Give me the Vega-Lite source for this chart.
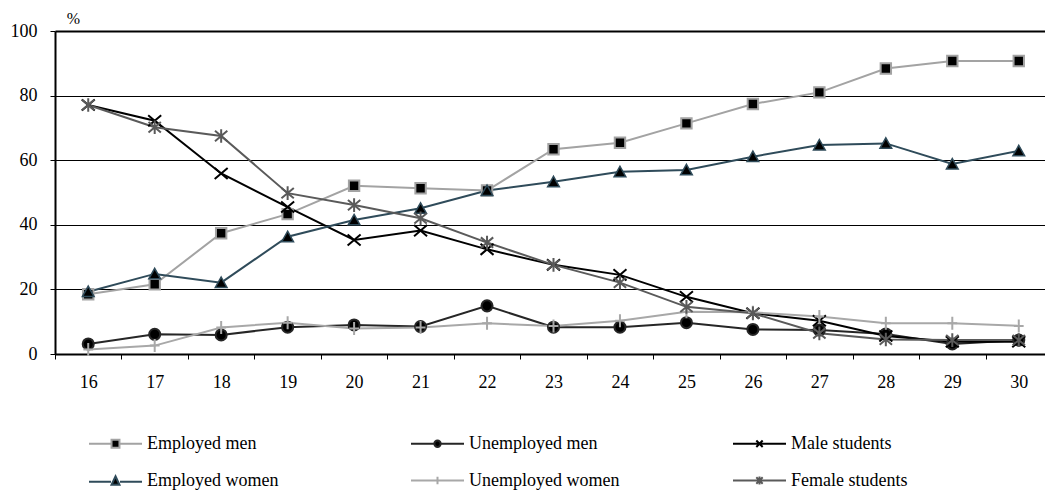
{
  "$schema": "https://vega.github.io/schema/vega-lite/v6.json",
  "width": 990,
  "height": 323,
  "autosize": {"type": "none"},
  "padding": {"left": 55, "top": 31, "right": 0, "bottom": 147},
  "background": "white",
  "config": {
    "view": {"stroke": null},
    "font": "Times New Roman, Liberation Serif, DejaVu Serif, serif",
    "axis": {"labelFont": "Times New Roman, Liberation Serif, DejaVu Serif, serif", "labelColor": "black", "titleFont": "Times New Roman, Liberation Serif, DejaVu Serif, serif", "titleColor": "black"},
    "legend": {"labelFont": "Times New Roman, Liberation Serif, DejaVu Serif, serif", "labelColor": "black"}
  },
  "data": {
    "values": [
      {"age": 16, "series": "Employed men", "value": 18.5},
      {"age": 17, "series": "Employed men", "value": 21.6},
      {"age": 18, "series": "Employed men", "value": 37.4},
      {"age": 19, "series": "Employed men", "value": 43.3},
      {"age": 20, "series": "Employed men", "value": 52.1},
      {"age": 21, "series": "Employed men", "value": 51.3},
      {"age": 22, "series": "Employed men", "value": 50.6},
      {"age": 23, "series": "Employed men", "value": 63.4},
      {"age": 24, "series": "Employed men", "value": 65.4},
      {"age": 25, "series": "Employed men", "value": 71.4},
      {"age": 26, "series": "Employed men", "value": 77.4},
      {"age": 27, "series": "Employed men", "value": 81.0},
      {"age": 28, "series": "Employed men", "value": 88.4},
      {"age": 29, "series": "Employed men", "value": 90.7},
      {"age": 30, "series": "Employed men", "value": 90.7},
      {"age": 16, "series": "Unemployed men", "value": 3.1},
      {"age": 17, "series": "Unemployed men", "value": 6.1},
      {"age": 18, "series": "Unemployed men", "value": 5.9},
      {"age": 19, "series": "Unemployed men", "value": 8.3},
      {"age": 20, "series": "Unemployed men", "value": 9.0},
      {"age": 21, "series": "Unemployed men", "value": 8.5},
      {"age": 22, "series": "Unemployed men", "value": 14.9},
      {"age": 23, "series": "Unemployed men", "value": 8.3},
      {"age": 24, "series": "Unemployed men", "value": 8.3},
      {"age": 25, "series": "Unemployed men", "value": 9.7},
      {"age": 26, "series": "Unemployed men", "value": 7.6},
      {"age": 27, "series": "Unemployed men", "value": 7.4},
      {"age": 28, "series": "Unemployed men", "value": 6.2},
      {"age": 29, "series": "Unemployed men", "value": 3.1},
      {"age": 30, "series": "Unemployed men", "value": 4.3},
      {"age": 16, "series": "Male students", "value": 77.1},
      {"age": 17, "series": "Male students", "value": 72.2},
      {"age": 18, "series": "Male students", "value": 55.9},
      {"age": 19, "series": "Male students", "value": 45.5},
      {"age": 20, "series": "Male students", "value": 35.3},
      {"age": 21, "series": "Male students", "value": 38.2},
      {"age": 22, "series": "Male students", "value": 32.4},
      {"age": 23, "series": "Male students", "value": 27.6},
      {"age": 24, "series": "Male students", "value": 24.5},
      {"age": 25, "series": "Male students", "value": 17.7},
      {"age": 26, "series": "Male students", "value": 12.6},
      {"age": 27, "series": "Male students", "value": 10.3},
      {"age": 28, "series": "Male students", "value": 5.6},
      {"age": 29, "series": "Male students", "value": 3.8},
      {"age": 30, "series": "Male students", "value": 3.8},
      {"age": 16, "series": "Employed women", "value": 19.3},
      {"age": 17, "series": "Employed women", "value": 24.8},
      {"age": 18, "series": "Employed women", "value": 22.1},
      {"age": 19, "series": "Employed women", "value": 36.3},
      {"age": 20, "series": "Employed women", "value": 41.5},
      {"age": 21, "series": "Employed women", "value": 45.1},
      {"age": 22, "series": "Employed women", "value": 50.6},
      {"age": 23, "series": "Employed women", "value": 53.3},
      {"age": 24, "series": "Employed women", "value": 56.4},
      {"age": 25, "series": "Employed women", "value": 57.0},
      {"age": 26, "series": "Employed women", "value": 61.1},
      {"age": 27, "series": "Employed women", "value": 64.7},
      {"age": 28, "series": "Employed women", "value": 65.2},
      {"age": 29, "series": "Employed women", "value": 58.8},
      {"age": 30, "series": "Employed women", "value": 62.9},
      {"age": 16, "series": "Unemployed women", "value": 1.4},
      {"age": 17, "series": "Unemployed women", "value": 2.6},
      {"age": 18, "series": "Unemployed women", "value": 8.2},
      {"age": 19, "series": "Unemployed women", "value": 9.7},
      {"age": 20, "series": "Unemployed women", "value": 7.9},
      {"age": 21, "series": "Unemployed women", "value": 8.2},
      {"age": 22, "series": "Unemployed women", "value": 9.5},
      {"age": 23, "series": "Unemployed women", "value": 8.7},
      {"age": 24, "series": "Unemployed women", "value": 10.3},
      {"age": 25, "series": "Unemployed women", "value": 13.1},
      {"age": 26, "series": "Unemployed women", "value": 12.9},
      {"age": 27, "series": "Unemployed women", "value": 11.6},
      {"age": 28, "series": "Unemployed women", "value": 9.5},
      {"age": 29, "series": "Unemployed women", "value": 9.5},
      {"age": 30, "series": "Unemployed women", "value": 8.7},
      {"age": 16, "series": "Female students", "value": 77.1},
      {"age": 17, "series": "Female students", "value": 70.2},
      {"age": 18, "series": "Female students", "value": 67.5},
      {"age": 19, "series": "Female students", "value": 49.8},
      {"age": 20, "series": "Female students", "value": 46.1},
      {"age": 21, "series": "Female students", "value": 42.0},
      {"age": 22, "series": "Female students", "value": 34.5},
      {"age": 23, "series": "Female students", "value": 27.6},
      {"age": 24, "series": "Female students", "value": 22.1},
      {"age": 25, "series": "Female students", "value": 14.6},
      {"age": 26, "series": "Female students", "value": 12.6},
      {"age": 27, "series": "Female students", "value": 6.4},
      {"age": 28, "series": "Female students", "value": 4.5},
      {"age": 29, "series": "Female students", "value": 4.3},
      {"age": 30, "series": "Female students", "value": 4.3}
    ]
  },
  "layer": [
    {
      "mark": {"type": "line", "strokeWidth": 2},
      "encoding": {
        "x": {
          "field": "age",
          "type": "ordinal",
          "scale": {"type": "band", "paddingInner": 0, "paddingOuter": 0, "range": [0, 997]},
          "axis": {
            "title": null,
            "labelAngle": 0,
            "labelFont": "Times New Roman, Liberation Serif, DejaVu Serif, serif",
            "labelFontSize": 18,
            "labelPadding": 14,
            "tickBand": "extent",
            "tickSize": 5,
            "tickColor": "black",
            "tickWidth": 1,
            "domainColor": "black",
            "domainWidth": 2,
            "grid": false
          }
        },
        "y": {
          "field": "value",
          "type": "quantitative",
          "scale": {"domain": [0, 100], "nice": false},
          "axis": {
            "values": [0, 20, 40, 60, 80, 100],
            "title": "%",
            "titleAngle": 0,
            "titleX": 18,
            "titleY": -13,
            "titleAlign": "center",
            "titleBaseline": "middle",
            "titleFont": "Times New Roman, Liberation Serif, DejaVu Serif, serif",
            "titleFontSize": 16,
            "titleFontWeight": "normal",
            "labelFont": "Times New Roman, Liberation Serif, DejaVu Serif, serif",
            "labelFontSize": 18,
            "labelPadding": 13,
            "tickSize": 5,
            "tickColor": "black",
            "domainColor": "black",
            "domainWidth": 2,
            "grid": true,
            "gridColor": "black",
            "gridOpacity": 1,
            "gridWidth": {"condition": {"test": "datum.value === 100", "value": 2}, "value": 1}
          }
        },
        "color": {
          "field": "series",
          "type": "nominal",
          "scale": {
            "domain": ["Employed men", "Unemployed men", "Male students", "Employed women", "Unemployed women", "Female students"],
            "range": ["#a3a3a3", "#262626", "#000000", "#2f4b5a", "#a8a8a8", "#5a5a5a"]
          },
          "legend": {
            "title": null,
            "orient": "none",
            "legendX": 33,
            "legendY": 385,
            "direction": "horizontal",
            "columns": 3,
            "gridAlign": "all",
            "columnPadding": 109,
            "rowPadding": -1,
            "symbolSize": 2809,
            "symbolStrokeWidth": 2,
            "labelFont": "Times New Roman, Liberation Serif, DejaVu Serif, serif",
            "labelFontSize": 18,
            "labelOffset": 4,
            "labelLimit": 300,
            "encode": {
              "symbols": {
                "update": {
                  "fill": {"value": "black"},
                  "fillOpacity": {"value": 1},
                  "opacity": {"value": 1},
                  "strokeWidth": {"value": 2},
                  "size": {"value": 2809},
                  "shape": {"signal": "datum.value === 'Employed men' ? 'M-1,0H-0.17M0.17,0H1M-0.15,-0.15H0.15V0.15H-0.15Z' : datum.value === 'Unemployed men' ? 'M-1,0H-0.13M0.13,0H1M0.12,0A0.12,0.12 0 1,1 -0.12,0A0.12,0.12 0 1,1 0.12,0Z' : datum.value === 'Male students' ? 'M-1,0H1M-0.12,-0.12L0.12,0.12M-0.12,0.12L0.12,-0.12' : datum.value === 'Employed women' ? 'M-1,0.05H-0.17M0.17,0.05H1M0,-0.16L0.15,0.16H-0.15Z' : datum.value === 'Unemployed women' ? 'M-1,0H1M0,-0.14V0.14' : 'M-1,0H1M-0.12,-0.12L0.12,0.12M-0.12,0.12L0.12,-0.12M0,-0.15V0.15'"}
                }
              }
            }
          }
        }
      }
    },
    {
      "transform": [{"filter": {"field": "series", "equal": "Employed men"}}],
      "mark": {"type": "point", "shape": "M-0.8,-0.8H0.8V0.8H-0.8Z", "filled": true, "fill": "black", "stroke": "#a3a3a3", "strokeWidth": 2, "size": 169, "opacity": 1},
      "encoding": {"x": {"field": "age", "type": "ordinal"}, "y": {"field": "value", "type": "quantitative"}}
    },
    {
      "transform": [{"filter": {"field": "series", "equal": "Unemployed men"}}],
      "mark": {"type": "point", "shape": "M0.85,0A0.85,0.85 0 1,1 -0.85,0A0.85,0.85 0 1,1 0.85,0Z", "filled": true, "fill": "black", "stroke": "#262626", "strokeWidth": 2, "size": 169, "opacity": 1},
      "encoding": {"x": {"field": "age", "type": "ordinal"}, "y": {"field": "value", "type": "quantitative"}}
    },
    {
      "transform": [{"filter": {"field": "series", "equal": "Male students"}}],
      "mark": {"type": "point", "shape": "M-1,-0.85L1,0.85M-1,0.85L1,-0.85", "filled": true, "fill": "black", "stroke": "#000000", "strokeWidth": 2, "size": 169, "opacity": 1},
      "encoding": {"x": {"field": "age", "type": "ordinal"}, "y": {"field": "value", "type": "quantitative"}}
    },
    {
      "transform": [{"filter": {"field": "series", "equal": "Employed women"}}],
      "mark": {"type": "point", "shape": "M0,-0.85L0.9,0.75H-0.9Z", "filled": true, "fill": "black", "stroke": "#2f4b5a", "strokeWidth": 1.5, "size": 169, "opacity": 1},
      "encoding": {"x": {"field": "age", "type": "ordinal"}, "y": {"field": "value", "type": "quantitative"}}
    },
    {
      "transform": [{"filter": {"field": "series", "equal": "Unemployed women"}}],
      "mark": {"type": "point", "shape": "M-0.75,0H0.75M0,-1V1", "filled": true, "fill": "black", "stroke": "#a8a8a8", "strokeWidth": 2, "size": 169, "opacity": 1},
      "encoding": {"x": {"field": "age", "type": "ordinal"}, "y": {"field": "value", "type": "quantitative"}}
    },
    {
      "transform": [{"filter": {"field": "series", "equal": "Female students"}}],
      "mark": {"type": "point", "shape": "M-0.95,-0.8L0.95,0.8M-0.95,0.8L0.95,-0.8M0,-1.05V1.05", "filled": true, "fill": "black", "stroke": "#5a5a5a", "strokeWidth": 2, "size": 169, "opacity": 1},
      "encoding": {"x": {"field": "age", "type": "ordinal"}, "y": {"field": "value", "type": "quantitative"}}
    }
  ]
}
